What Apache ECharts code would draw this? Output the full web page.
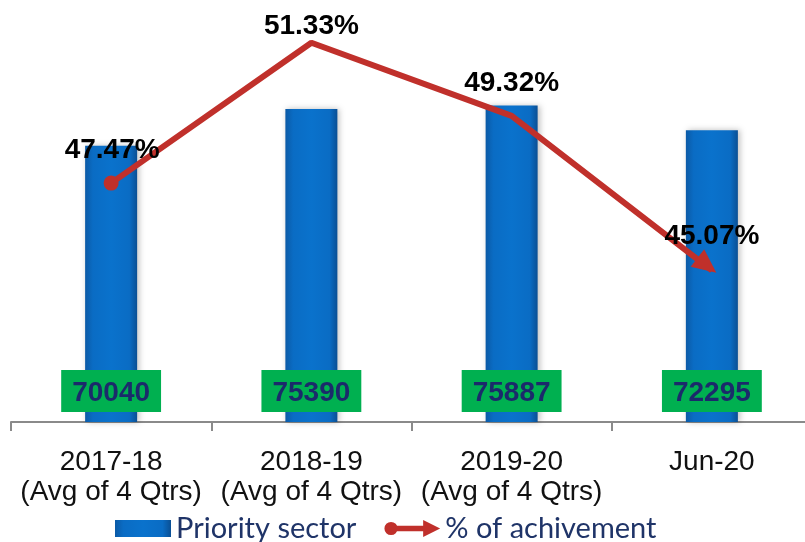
<!DOCTYPE html>
<html><head><meta charset="utf-8">
<script src="https://cdn.jsdelivr.net/npm/echarts@6/dist/echarts.min.js"></script>
<style>html,body{margin:0;padding:0;background:#fff}#c{width:805px;height:542px}</style>
</head><body><div id="c"></div>
<script>
const categories = ['2017-18\n(Avg of 4 Qtrs)', '2018-19\n(Avg of 4 Qtrs)', '2019-20\n(Avg of 4 Qtrs)', 'Jun-20'];
const prioritySector = [70040, 75390, 75887, 72295];
const achievement = [47.47, 51.33, 49.32, 45.07];

const chart = echarts.init(document.getElementById('c'));
const barGrad = new echarts.graphic.LinearGradient(0, 0, 1, 0, [
  {offset: 0, color: '#0b5aa6'},
  {offset: 0.15, color: '#0a6cc4'},
  {offset: 0.5, color: '#0a72cc'},
  {offset: 0.85, color: '#0a6cc4'},
  {offset: 1, color: '#0a4f94'}
]);
const lblOffsets = [[1, 3], [0, 12], [0, -4], [5, 15]];
const lineIcon = 'path://M1,10 A7,7 0 1,1 15,10 A7,7 0 1,1 1,10 Z M14,7 L43,7 L43,13 L14,13 Z M42,1 L60,10 L42,19 Z';
const last = achievement.length - 1;
chart.setOption({
  animation: false,
  grid: {left: 11, width: 801, top: 22, height: 400, outerBoundsMode: 'none', containLabel: false},
  legend: {
    bottom: -6, left: 110, itemGap: 28, itemWidth: 56, itemHeight: 17,
    textStyle: {fontSize: 29, color: '#1f3468', fontFamily: 'Lato'},
    data: [{name: 'Priority sector', icon: 'rect'}, {name: '% of achivement', icon: lineIcon}]
  },
  xAxis: {
    type: 'category', data: categories,
    axisLine: {show: true, lineStyle: {color: '#8a8a8a', width: 2}},
    axisTick: {show: true, interval: 0, length: 9, lineStyle: {color: '#8a8a8a', width: 2}},
    axisLabel: {interval: 0, fontSize: 28, color: '#111', lineHeight: 30, margin: 25, fontFamily: 'Liberation Sans'}
  },
  yAxis: [
    {type: 'value', min: 30000, max: 88000, show: false, splitLine: {show: false}},
    {type: 'value', min: 40.9, max: 51.9, show: false, splitLine: {show: false}}
  ],
  series: [
    {
      name: 'Priority sector', type: 'bar', data: prioritySector, barWidth: 52,
      itemStyle: {color: barGrad, shadowColor: 'rgba(0,0,0,0.25)', shadowBlur: 6, shadowOffsetX: 2},
      label: {
        show: true, position: 'insideBottom', distance: 10, fontSize: 28, fontWeight: 'bold',
        color: '#1b2a6b', backgroundColor: '#00b050', padding: [9, 11, 5, 11], fontFamily: 'Liberation Sans'
      },
      z: 2
    },
    {
      name: '% of achivement', type: 'line', yAxisIndex: 1, z: 3,
      data: achievement.map((v, i) => ({
        value: v,
        symbol: i === last ? 'triangle' : 'circle',
        symbolSize: i === 0 ? 15 : (i === last ? [22, 24] : 1),
        symbolRotate: i === last ? -128 : 0,
        symbolOffset: i === last ? [-5, -5] : [0, 0],
        label: {offset: lblOffsets[i]}
      })),
      lineStyle: {color: '#c0302b', width: 6},
      itemStyle: {color: '#c0302b'},
      label: {show: true, position: 'top', distance: 14, fontSize: 28, fontWeight: 'bold', color: '#000',
        fontFamily: 'Liberation Sans', formatter: p => p.value.toFixed(2) + '%'}
    }
  ]
});
</script></body></html>
